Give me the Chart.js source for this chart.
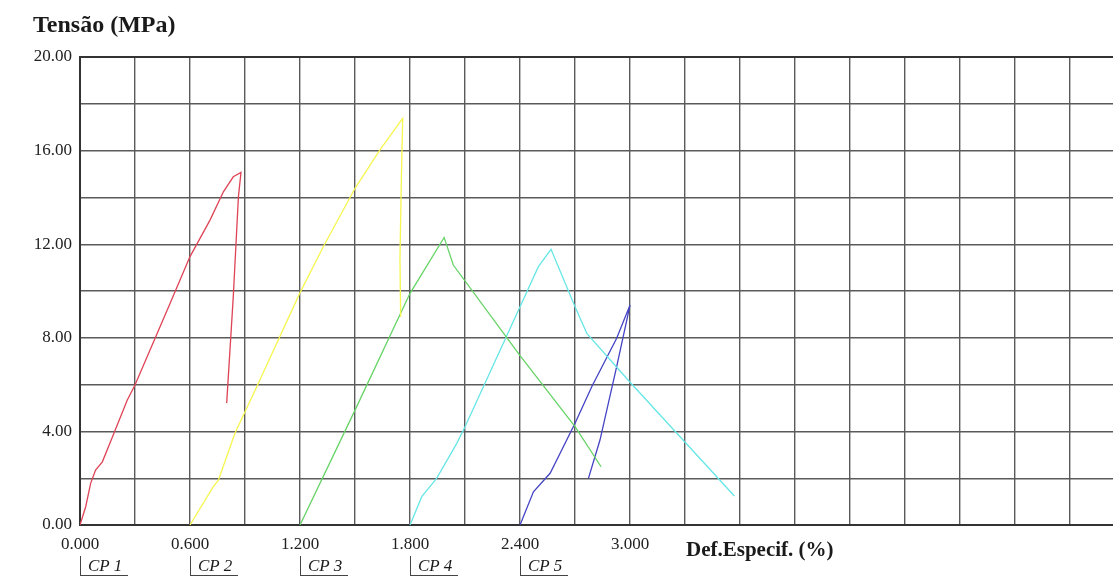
<!DOCTYPE html>
<html lang="pt">
<head>
<meta charset="UTF-8">
<title>Tensão x Def.Especif.</title>
<script src="https://cdn.jsdelivr.net/npm/chart.js@4.4.0/dist/chart.umd.min.js"></script>
<style>
body { margin: 0; background: #fff; }
#wrap { position: relative; width: 1113px; height: 578px; overflow: hidden; font-family: "Liberation Serif", "DejaVu Serif", serif; color: #1a1a1a; }
#yTitle { position: absolute; left: 33px; top: 11px; font-size: 24px; font-weight: bold; }
#xTitle { position: absolute; left: 686px; top: 537px; font-size: 21px; font-weight: bold; }
.cp { position: absolute; top: 556px; height: 19px; padding: 0 6px 0 7px; font-size: 17px; font-style: italic; line-height: 19px; border-left: 1px solid #444; border-bottom: 1px solid #444; }
</style>
</head>
<body>
<div id="wrap">
    <canvas id="myChart" width="1113" height="578"></canvas>
    <div id="yTitle">Tensão (MPa)</div>
    <div id="xTitle">Def.Especif. (%)</div>
    <div class="cp" style="left:80px">CP 1</div>
    <div class="cp" style="left:190px">CP 2</div>
    <div class="cp" style="left:300px">CP 3</div>
    <div class="cp" style="left:410px">CP 4</div>
    <div class="cp" style="left:520px">CP 5</div>
</div>
<script>
// values: x = Def.Especif. (%), y = Tensão (MPa)
const cp1X = [0, 0.031, 0.058, 0.085, 0.122, 0.185, 0.258, 0.30, 0.491, 0.60, 0.709, 0.782, 0.836, 0.878, 0.864, 0.836, 0.80];
const cp1Y = [0, 0.78, 1.78, 2.35, 2.70, 3.92, 5.34, 5.98, 9.47, 11.47, 13.03, 14.24, 14.88, 15.07, 14.03, 9.76, 5.21];

const cp2X = [0.60, 0.727, 0.755, 0.845, 0.964, 1.20, 1.327, 1.50, 1.636, 1.76, 1.752, 1.745, 1.749];
const cp2Y = [0, 1.64, 1.92, 3.92, 5.91, 9.93, 11.89, 14.39, 16.03, 17.38, 14.5, 11.32, 8.9];

const cp3X = [1.20, 1.50, 1.80, 1.986, 2.036, 2.40, 2.70, 2.842];
const cp3Y = [0, 4.91, 9.90, 12.29, 11.11, 7.24, 4.20, 2.49];

const cp4X = [1.80, 1.864, 1.945, 2.055, 2.10, 2.40, 2.50, 2.569, 2.70, 2.764, 3.00, 3.569];
const cp4Y = [0, 1.21, 1.99, 3.49, 4.20, 9.33, 11.04, 11.78, 9.33, 8.19, 6.10, 1.24];

const cp5X = [2.40, 2.473, 2.564, 2.70, 2.791, 2.927, 3.00, 2.927, 2.836, 2.773];
const cp5Y = [0, 1.42, 2.21, 4.35, 5.91, 7.98, 9.40, 6.77, 3.63, 1.99];

const xGrid = [0, 0.3, 0.6, 0.9, 1.2, 1.5, 1.8, 2.1, 2.4, 2.7, 3.0, 3.3, 3.6, 3.9, 4.2, 4.5, 4.8, 5.1, 5.4];
const xLabels = ["0.000", "", "0.600", "", "1.200", "", "1.800", "", "2.400", "", "3.000"];
const yLabels = ["0.00", "", "4.00", "", "8.00", "", "12.00", "", "16.00", "", "20.00"];

const pts = (xs, ys) => xs.map((x, i) => ({ x: x, y: ys[i] }));

function series(xs, ys, color) {
    return {
        data: pts(xs, ys),
        borderColor: color,
        borderWidth: 1.3,
        pointRadius: 0,
        showLine: true,
        tension: 0
    };
}

var ctx = document.getElementById("myChart").getContext('2d');
new Chart(ctx, {
    type: 'scatter',
    data: {
        datasets: [
            series(cp1X, cp1Y, '#de4456'),
            series(cp2X, cp2Y, '#f6f650'),
            series(cp3X, cp3Y, '#66d466'),
            series(cp4X, cp4Y, '#66e6e6'),
            series(cp5X, cp5Y, '#4444c4')
        ]
    },
    options: {
        responsive: false,
        animation: false,
        layout: { padding: { top: 57, left: 0, right: 0, bottom: 0 } },
        plugins: { legend: { display: false }, tooltip: { enabled: false } },
        scales: {
            x: {
                type: 'linear',
                min: 0,
                max: 5.634,
                afterBuildTicks: (scale) => { scale.ticks = xGrid.map(v => ({ value: v })); },
                afterFit: (scale) => { scale.height = 53; },
                grid: { color: '#5a5a5a', lineWidth: 1.4, drawTicks: false },
                border: { color: '#333', width: 2 },
                ticks: {
                    padding: 9,
                    maxRotation: 0,
                    autoSkip: false,
                    color: '#222',
                    font: { family: 'Liberation Serif', size: 17 },
                    callback: (v, i) => xLabels[i] || ''
                }
            },
            y: {
                min: 0,
                max: 20,
                afterBuildTicks: (scale) => { scale.ticks = yLabels.map((l, i) => ({ value: i * 2 })); },
                afterFit: (scale) => { scale.width = 80; },
                grid: {
                    color: (c) => c.tick && c.tick.value === 20 ? '#333' : '#5a5a5a',
                    lineWidth: (c) => c.tick && c.tick.value === 20 ? 2 : 1.4,
                    drawTicks: false
                },
                border: { color: '#333', width: 2 },
                ticks: {
                    padding: 8,
                    color: '#222',
                    font: { family: 'Liberation Serif', size: 17 },
                    callback: (v, i) => yLabels[i]
                }
            }
        }
    }
});
</script>
</body>
</html>
